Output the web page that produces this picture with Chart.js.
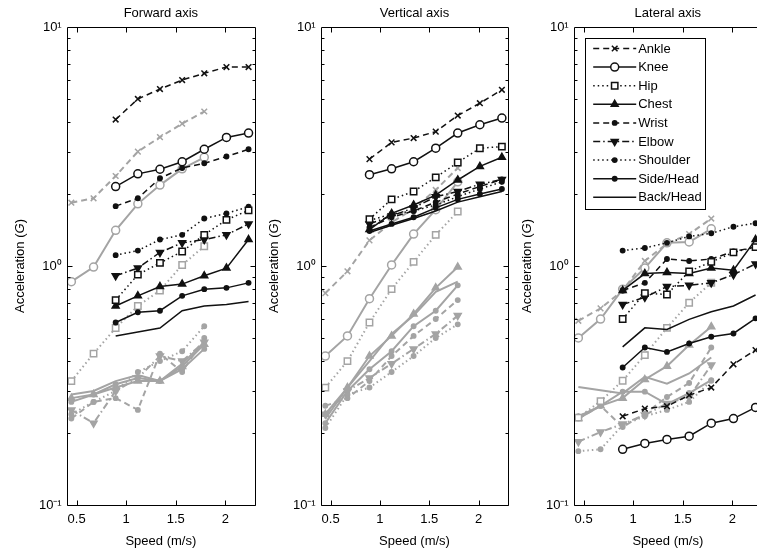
<!DOCTYPE html>
<html><head><meta charset="utf-8">
<script src="https://cdn.jsdelivr.net/npm/chart.js@4"></script>
<style>
html,body{margin:0;padding:0;background:#fff;overflow:hidden;width:757px;height:553px;position:relative;}
.pn{position:absolute;top:0;}
canvas{display:block;}
</style></head><body>
<div class="pn" style="left:0px"><canvas id="c1" width="265" height="553"></canvas></div>
<div class="pn" style="left:265px"><canvas id="c2" width="253" height="553"></canvas></div>
<div class="pn" style="left:518px"><canvas id="c3" width="250" height="553"></canvas></div>
<script>
// ---------- data ----------
const seriesNames = ['Ankle','Knee','Hip','Chest','Wrist','Elbow','Shoulder','Side/Head','Back/Head'];
const panelTitles = ['Forward axis','Vertical axis','Lateral axis'];
const speedsGray  = [0.447,0.671,0.894,1.118,1.341,1.565,1.788];
const speedsBlack = [0.894,1.118,1.341,1.565,1.788,2.012,2.235];
const xTickValues = [0.5,1,1.5,2];
const yTickLabels = {'-1':'10\u207B\u00B9','0':'10\u2070','1':'10\u00B9'};

// Forward axis, black (higher speeds)
const fwdB_ankle    = [4.1,5.0,5.5,6.0,6.4,6.8,6.8];
const fwdB_knee     = [2.15,2.43,2.54,2.73,3.08,3.45,3.60];
const fwdB_hip      = [0.72,0.92,1.03,1.15,1.35,1.56,1.71];
const fwdB_chest    = [0.68,0.75,0.82,0.84,0.91,0.98,1.29];
const fwdB_wrist    = [1.78,1.92,2.33,2.57,2.69,2.87,3.08];
const fwdB_elbow    = [0.91,0.98,1.14,1.25,1.29,1.35,1.50];
const fwdB_shoulder = [1.11,1.16,1.29,1.35,1.58,1.66,1.77];
const fwdB_side     = [0.58,0.64,0.65,0.75,0.80,0.81,0.85];
const fwdB_back     = [0.51,0.53,0.55,0.65,0.68,0.69,0.71];
// Forward axis, gray (lower speeds)
const fwdG_ankle    = [1.84,1.92,2.38,3.01,3.46,3.94,4.43];
const fwdG_knee     = [0.86,0.99,1.41,1.82,2.18,2.55,2.85];
const fwdG_hip      = [0.33,0.43,0.55,0.68,0.79,1.01,1.21];
const fwdG_chest    = [0.28,0.29,0.31,0.33,0.33,0.38,0.47];
const fwdG_wrist    = [0.23,0.27,0.28,0.25,0.43,0.36,0.50];
const fwdG_elbow    = [0.25,0.22,0.30,0.34,0.42,0.40,0.48];
const fwdG_shoulder = [0.24,0.27,0.30,0.36,0.40,0.44,0.56];
const fwdG_side     = [0.27,0.29,0.32,0.34,0.33,0.37,0.45];
const fwdG_back     = [0.29,0.30,0.33,0.35,0.33,0.39,0.48];

// Vertical axis
const verB_ankle    = [2.80,3.29,3.43,3.65,4.26,4.80,5.46];
const verB_knee     = [2.41,2.55,2.73,3.11,3.60,3.90,4.16];
const verB_hip      = [1.57,1.90,2.05,2.35,2.71,3.11,3.16];
const verB_chest    = [1.42,1.66,1.80,1.98,2.29,2.61,2.85];
const verB_wrist    = [1.45,1.60,1.70,1.85,2.00,2.15,2.30];
const verB_elbow    = [1.50,1.62,1.75,1.95,2.05,2.20,2.30];
const verB_shoulder = [1.55,1.65,1.70,1.80,1.95,2.10,2.25];
const verB_side     = [1.40,1.50,1.60,1.75,1.90,2.00,2.10];
const verB_back     = [1.38,1.48,1.58,1.70,1.85,1.95,2.05];
const verG_ankle    = [0.77,0.95,1.28,1.52,1.74,2.08,2.57];
const verG_knee     = [0.42,0.51,0.73,1.01,1.36,1.72,2.25];
const verG_hip      = [0.31,0.40,0.58,0.80,1.04,1.35,1.69];
const verG_chest    = [0.24,0.31,0.42,0.51,0.63,0.81,0.99];
const verG_wrist    = [0.26,0.28,0.33,0.42,0.51,0.60,0.72];
const verG_elbow    = [0.24,0.30,0.34,0.39,0.45,0.52,0.62];
const verG_shoulder = [0.21,0.29,0.31,0.36,0.42,0.50,0.57];
const verG_side     = [0.22,0.30,0.37,0.44,0.56,0.65,0.83];
const verG_back     = [0.23,0.31,0.40,0.52,0.62,0.78,0.86];

// Lateral axis
const latB_ankle    = [0.235,0.253,0.259,0.288,0.31,0.388,0.445];
const latB_knee     = [0.171,0.181,0.188,0.194,0.22,0.23,0.256];
const latB_hip      = [0.60,0.77,0.76,0.95,1.04,1.14,1.20];
const latB_chest    = [0.79,0.93,0.94,0.93,0.98,0.96,1.29];
const latB_wrist    = [0.79,0.85,1.07,1.05,1.07,1.15,1.20];
const latB_elbow    = [0.69,0.74,0.82,0.83,0.85,0.92,1.02];
const latB_shoulder = [1.16,1.19,1.25,1.33,1.37,1.46,1.51];
const latB_side     = [0.376,0.456,0.437,0.474,0.506,0.522,0.604];
const latB_back     = [0.459,0.551,0.543,0.598,0.644,0.68,0.756];
const latG_ankle    = [0.59,0.665,0.79,1.05,1.24,1.36,1.58];
const latG_knee     = [0.50,0.60,0.80,0.98,1.25,1.26,1.43];
const latG_hip      = [0.232,0.272,0.331,0.424,0.551,0.702,0.851];
const latG_chest    = [0.23,0.26,0.28,0.335,0.381,0.467,0.557];
const latG_wrist    = [0.23,0.26,0.212,0.241,0.283,0.324,0.456];
const latG_elbow    = [0.184,0.202,0.218,0.238,0.266,0.283,0.385];
const latG_shoulder = [0.168,0.171,0.216,0.235,0.25,0.27,0.331];
const latG_side     = [0.235,0.26,0.298,0.298,0.264,0.294,0.333];
const latG_back     = [0.312,0.302,0.293,0.344,0.322,0.355,0.414];

const fwdBlack = [fwdB_ankle,fwdB_knee,fwdB_hip,fwdB_chest,fwdB_wrist,fwdB_elbow,fwdB_shoulder,fwdB_side,fwdB_back];
const fwdGray  = [fwdG_ankle,fwdG_knee,fwdG_hip,fwdG_chest,fwdG_wrist,fwdG_elbow,fwdG_shoulder,fwdG_side,fwdG_back];
const verBlack = [verB_ankle,verB_knee,verB_hip,verB_chest,verB_wrist,verB_elbow,verB_shoulder,verB_side,verB_back];
const verGray  = [verG_ankle,verG_knee,verG_hip,verG_chest,verG_wrist,verG_elbow,verG_shoulder,verG_side,verG_back];
const latBlack = [latB_ankle,latB_knee,latB_hip,latB_chest,latB_wrist,latB_elbow,latB_shoulder,latB_side,latB_back];
const latGray  = [latG_ankle,latG_knee,latG_hip,latG_chest,latG_wrist,latG_elbow,latG_shoulder,latG_side,latG_back];

// ---------- styles ----------
const BLACK = '#111111', GRAY = '#a4a4a4';
const FONT = '"Liberation Sans", Arial, Helvetica, sans-serif';
Chart.defaults.font.family = FONT;
Chart.defaults.font.size = 13;
Chart.defaults.color = '#000';
const DASH = [6,4], DOT = [1.5,3], DASHDOT = [7,3,1.5,3];
const seriesStyles = [
  {dash:DASH,    ps:'crossRot', r:4,   rot:0,   hollow:false},
  {dash:[],      ps:'circle',   r:4,   rot:0,   hollow:true},
  {dash:DOT,     ps:'rect',     r:4.5, rot:0,   hollow:true},
  {dash:[],      ps:'triangle', r:4,   rot:0,   hollow:false},
  {dash:DASH,    ps:'circle',   r:2.2, rot:0,   hollow:false},
  {dash:DASHDOT, ps:'triangle', r:4,   rot:180, hollow:false},
  {dash:DOT,     ps:'circle',   r:2.2, rot:0,   hollow:false},
  {dash:[],      ps:'circle',   r:2.2, rot:0,   hollow:false},
  {dash:[],      ps:false,      r:0,   rot:0,   hollow:false}
];

function mkDataset(name, vals, speeds, color, st, lw){
  return {
    label: name,
    data: vals.map((v,i)=>({x:speeds[i], y:v})),
    borderColor: color,
    backgroundColor: st.hollow ? '#ffffff' : color,
    pointBorderColor: color,
    pointBackgroundColor: st.hollow ? '#ffffff' : color,
    borderWidth: lw,
    pointBorderWidth: 1.5,
    borderDash: st.dash,
    pointStyle: st.ps || 'circle',
    pointRadius: st.r,
    pointRotation: st.rot,
    pointHoverRadius: st.r,
    tension: 0,
    fill: false
  };
}

const framePlugin = {
  id: 'frame',
  afterDatasetsDraw(chart){
    const {ctx, chartArea:a, scales:{x, y}} = chart;
    ctx.save();
    ctx.setLineDash([]);
    ctx.strokeStyle = '#000'; ctx.lineWidth = 1;
    const L = Math.round(a.left)+0.5, R = Math.round(a.right)+0.5, T = Math.round(a.top)+0.5, B = Math.round(a.bottom)+0.5;
    ctx.beginPath();
    ctx.moveTo(L,T); ctx.lineTo(R,T); ctx.lineTo(R,B); ctx.lineTo(L,B); ctx.closePath();
    for (const v of xTickValues){
      const px = Math.round(x.getPixelForValue(v))+0.5;
      ctx.moveTo(px,B); ctx.lineTo(px,B-5);
      ctx.moveTo(px,T); ctx.lineTo(px,T+5);
    }
    for (let k=-1;k<=0;k++){
      for (let m=1;m<=9;m++){
        const v = m*Math.pow(10,k);
        const py = Math.round(y.getPixelForValue(v))+0.5;
        const len = m===1 ? 5 : 3;
        ctx.moveTo(L,py); ctx.lineTo(L+len,py);
        ctx.moveTo(R,py); ctx.lineTo(R-len,py);
      }
    }
    ctx.stroke();
    ctx.restore();
  }
};

const yTitlePlugin = {
  id: 'ytitle',
  afterDraw(chart){
    const {ctx, chartArea:a} = chart;
    ctx.save();
    ctx.translate(a.left-46, (a.top+a.bottom)/2);
    ctx.rotate(-Math.PI/2);
    ctx.fillStyle = '#000';
    ctx.textBaseline = 'middle';
    const fN = '13px '+FONT, fI = 'italic 13px '+FONT;
    const parts = [['Acceleration (',fN],['G',fI],[')',fN]];
    let w = 0;
    for (const [t,f] of parts){ ctx.font=f; w += ctx.measureText(t).width; }
    let xx = -w/2;
    ctx.textAlign = 'left';
    for (const [t,f] of parts){ ctx.font=f; ctx.fillText(t,xx,0); xx += ctx.measureText(t).width; }
    ctx.restore();
  }
};

const legendPlugin = {
  id: 'boxlegend',
  afterDraw(chart, args, opts){
    if (!opts || !opts.show) return;
    const {ctx, chartArea:a} = chart;
    const left = a.left + 11.5, top = a.top + 10.5, w = 120, h = 171;
    ctx.save();
    ctx.fillStyle = '#fff';
    ctx.fillRect(left, top, w, h);
    ctx.strokeStyle = '#000'; ctx.lineWidth = 1; ctx.setLineDash([]);
    ctx.strokeRect(Math.round(left)+0.5, Math.round(top)+0.5, w, h);
    seriesNames.forEach((name,i)=>{
      const st = seriesStyles[i];
      const yy = top + 11 + i*18.6;
      ctx.strokeStyle = BLACK; ctx.lineWidth = 1.5;
      ctx.setLineDash(st.dash);
      ctx.beginPath(); ctx.moveTo(left+8, yy); ctx.lineTo(left+51, yy); ctx.stroke();
      ctx.setLineDash([]);
      if (st.ps){
        ctx.fillStyle = st.hollow ? '#fff' : BLACK;
        ctx.strokeStyle = BLACK; ctx.lineWidth = 1.5;
        Chart.helpers.drawPoint(ctx, {pointStyle: st.ps, radius: st.r, rotation: st.rot, borderWidth: 1.5}, left+29.5, yy);
      }
      ctx.fillStyle = '#000';
      ctx.font = '13px '+FONT;
      ctx.textAlign = 'left'; ctx.textBaseline = 'middle';
      ctx.fillText(name, left+53, yy+0.5);
    });
    ctx.restore();
  }
};

function makePanel(canvasId, title, blackSets, graySets, yAxisW, padRight, showLegend){
  const datasets = [];
  seriesNames.forEach((n,i)=>datasets.push(mkDataset(n, blackSets[i], speedsBlack, BLACK, seriesStyles[i], 1.5)));
  seriesNames.forEach((n,i)=>datasets.push(mkDataset(n+' (gray)', graySets[i], speedsGray, GRAY, seriesStyles[i], 2)));
  return new Chart(document.getElementById(canvasId), {
    type: 'line',
    data: {datasets},
    options: {
      responsive: false,
      animation: false,
      devicePixelRatio: 1,
      layout: {padding: {top:0, left:0, right:padRight, bottom:0}},
      plugins: {
        legend: {display:false},
        tooltip: {enabled:false},
        title: {display:true, text:title, fullSize:false, font:{size:13, weight:'normal'}, color:'#000', padding:{top:5.5, bottom:5.9}},
        boxlegend: {show: showLegend}
      },
      scales: {
        x: {
          type: 'linear', min: 0.4, max: 2.3,
          grid: {display:false, drawTicks:false},
          border: {display:false},
          afterBuildTicks: s => { s.ticks = xTickValues.map(v=>({value:v})); },
          afterFit: s => { s.height = 48; },
          ticks: {padding:7, maxRotation:0, autoSkip:false, font:{size:13}, color:'#000', callback: v => String(v)},
          title: {display:true, text:'Speed (m/s)', font:{size:13}, color:'#000', padding:{top:0, bottom:3.5}}
        },
        y: {
          type: 'logarithmic', min: 0.1, max: 10,
          grid: {display:false, drawTicks:false},
          border: {display:false},
          afterFit: s => { s.width = yAxisW; },
          ticks: {
            padding: 5, autoSkip:false, font:{size:13}, color:'#000',
            callback: (v) => {
              const l = Math.log10(v);
              const r = Math.round(l);
              return Math.abs(l-r) < 1e-6 ? yTickLabels[String(r)] : '';
            }
          }
        }
      }
    },
    plugins: [framePlugin, yTitlePlugin, legendPlugin]
  });
}

makePanel('c1', panelTitles[0], fwdBlack, fwdGray, 66.7, 10, false);
makePanel('c2', panelTitles[1], verBlack, verGray, 55.7, 9.7, false);
makePanel('c3', panelTitles[2], latBlack, latGray, 55.7, 6, true);
</script>
</body></html>
